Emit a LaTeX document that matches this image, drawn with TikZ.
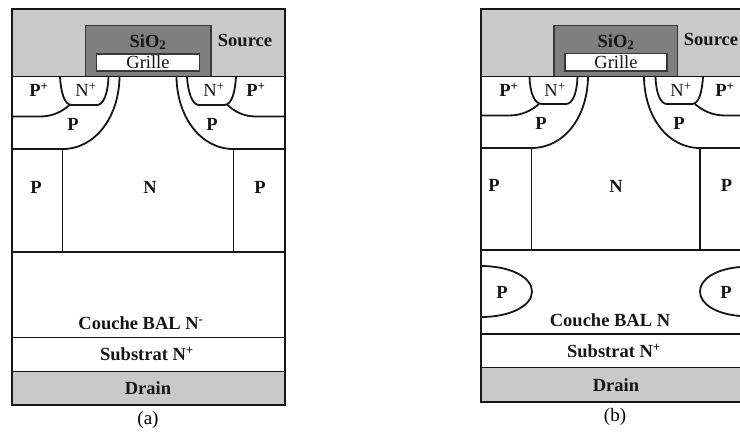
\documentclass[tikz,border=0pt]{standalone}
\usepackage{fontspec}
\setmainfont{Liberation Serif}
\usetikzlibrary{calc}

\definecolor{metalgray}{HTML}{C9C9C9}
\definecolor{oxidegray}{HTML}{7F7F7F}
\definecolor{inkgray}{HTML}{161616}

\tikzset{
    border/.style = {line width=2pt, draw=inkgray},
    junction/.style = {line width=1.8pt, draw=inkgray},
    boxline/.style = {line width=1.5pt, draw=inkgray!85},
    lab/.style = {font=\fontsize{18.5}{20}\selectfont\bfseries, text=inkgray, inner sep=0pt},
    labthin/.style = {font=\fontsize{18.5}{20}\selectfont, text=inkgray, inner sep=0pt},
    caption/.style = {font=\fontsize{19}{21}\selectfont, text=black, inner sep=0pt},
}

\begin{document}
\begin{tikzpicture}[x=1pt, y=-1pt]

\useasboundingbox (0,0) rectangle (740,432);

% panel (a)
\fill[metalgray] (11.5,8.5) rectangle (284.5,76.5);
\fill[metalgray] (11.5,371.5) rectangle (284.5,405);
\draw[boxline, fill=oxidegray] (85.5,25.5) rectangle (211,76.5);
\draw[boxline, fill=white] (96.5,54) rectangle (199.5,71);

\draw[junction] (11.5,76.5) -- (284.5,76.5);
\draw[junction] (11.5,252) -- (284.5,252);
\draw[junction] (11.5,337.5) -- (284.5,337.5);
\draw[junction] (11.5,371.5) -- (284.5,371.5);

\draw[junction] (60,77) .. controls (61,92) and (64,105) .. (72,105) -- (97,105) .. controls (104,105) and (108,92) .. (108.5,77);
\draw[junction] (187,77) .. controls (188,92) and (192,105) .. (199,105) -- (224,105) .. controls (232,105) and (235,92) .. (236,77);
\draw[junction] (119.5,77) .. controls (119,116) and (96,149) .. (62.5,149);
\draw[junction] (176.5,77) .. controls (177,116) and (200,149) .. (233.5,149);
\draw[junction] (11.5,116.5) -- (40,116.5) .. controls (52,116.5) and (62,112) .. (70,104.5);
\draw[junction] (284.5,116.5) -- (256,116.5) .. controls (244,116.5) and (235,112) .. (227,104.5);
\draw[junction] (11.5,149) -- (62.5,149) -- (62.5,252);
\draw[junction] (284.5,149) -- (233.5,149) -- (233.5,252);

\draw[border] (11.5,8.5) rectangle (284.5,405);

\node[lab] (oxidea) at (148,42) {SiO\textsubscript{2}};
\node[labthin] (grillea) at (148,62.5) {Grille};
\node[lab] (sourcea) at (245,40) {Source};
\node[lab] (pplusla) at (39,89.5) {P\textsuperscript{+}};
\node[labthin] (nplusla) at (86,90) {N\textsuperscript{+}};
\node[labthin] (nplusra) at (214,90) {N\textsuperscript{+}};
\node[lab] (pplusra) at (256,89.5) {P\textsuperscript{+}};
\node[lab] (pwellla) at (73,124.5) {P};
\node[lab] (pwellra) at (212,124.5) {P};
\node[lab] (pilla) at (36,187) {P};
\node[lab] (channela) at (150,187) {N};
\node[lab] (pillra) at (260,187) {P};
\node[lab] (couchea) at (141,323) {Couche BAL N\textsuperscript{-}};
\node[lab] (substrata) at (147,354) {Substrat N\textsuperscript{+}};
\node[lab] (draina) at (148,388) {Drain};
\node[caption] (capa) at (148,420) {(a)};

% panel (b)
\fill[metalgray] (481,8.5) rectangle (740,76.5);
\fill[metalgray] (481,367.5) rectangle (740,401.5);
\draw[boxline, fill=oxidegray] (554,25.5) rectangle (677.5,76.5);
\draw[boxline, fill=white] (565,53.5) rectangle (667,71);

\draw[junction] (481,76.5) -- (740,76.5);
\draw[junction] (481,250) -- (740,250);
\draw[junction] (481,334) -- (740,334);
\draw[junction] (481,367.5) -- (740,367.5);

\draw[junction] (529.5,77) .. controls (530,92) and (534,104) .. (542,104) -- (566,104) .. controls (573,104) and (577,92) .. (577.5,77);
\draw[junction] (655.5,77) .. controls (656,92) and (660,104) .. (667,104) -- (692,104) .. controls (699,104) and (702,92) .. (703,77);
\draw[junction] (588,77) .. controls (587.5,116) and (565,148) .. (531.5,148);
\draw[junction] (644,77) .. controls (644.5,116) and (667,148) .. (700,148);
\draw[junction] (481,115.5) -- (509,115.5) .. controls (521,115.5) and (531,111) .. (539,104);
\draw[junction] (740,115.5) -- (725,115.5) .. controls (713,115.5) and (703,111) .. (695,104);
\draw[junction] (481,148) -- (531.5,148) -- (531.5,250);
\draw[junction] (740,148) -- (700,148) -- (700,250);

\draw[junction] (481,266) .. controls (510,266) and (532,277) .. (532,291.5) .. controls (532,306) and (510,317) .. (481,317);
\draw[junction] (740,267) .. controls (716,269) and (700,279) .. (700,291.5) .. controls (700,304) and (716,314) .. (740,316);

\draw[border] (740,8.5) -- (481,8.5) -- (481,401.5) -- (740,401.5);

\node[lab] (oxideb) at (616,42) {SiO\textsubscript{2}};
\node[labthin] (grilleb) at (616,62.5) {Grille};
\node[lab] (sourceb) at (711,39) {Source};
\node[lab] (ppluslb) at (509,89.5) {P\textsuperscript{+}};
\node[labthin] (npluslb) at (555,90) {N\textsuperscript{+}};
\node[labthin] (nplusrb) at (681,90) {N\textsuperscript{+}};
\node[lab] (pplusrb) at (725,89.5) {P\textsuperscript{+}};
\node[lab] (pwelllb) at (541,123) {P};
\node[lab] (pwellrb) at (679,123) {P};
\node[lab] (pillb) at (494,185) {P};
\node[lab] (channelb) at (616,186) {N};
\node[lab] (pillrb) at (726.5,185) {P};
\node[lab] (balllb) at (502,292) {P};
\node[lab] (ballrb) at (726,292) {P};
\node[lab] (coucheb) at (610,320) {Couche BAL N};
\node[lab] (substratb) at (614,351) {Substrat N\textsuperscript{+}};
\node[lab] (drainb) at (616,385) {Drain};
\node[caption] (capb) at (615,417) {(b)};

\end{tikzpicture}
\end{document}
